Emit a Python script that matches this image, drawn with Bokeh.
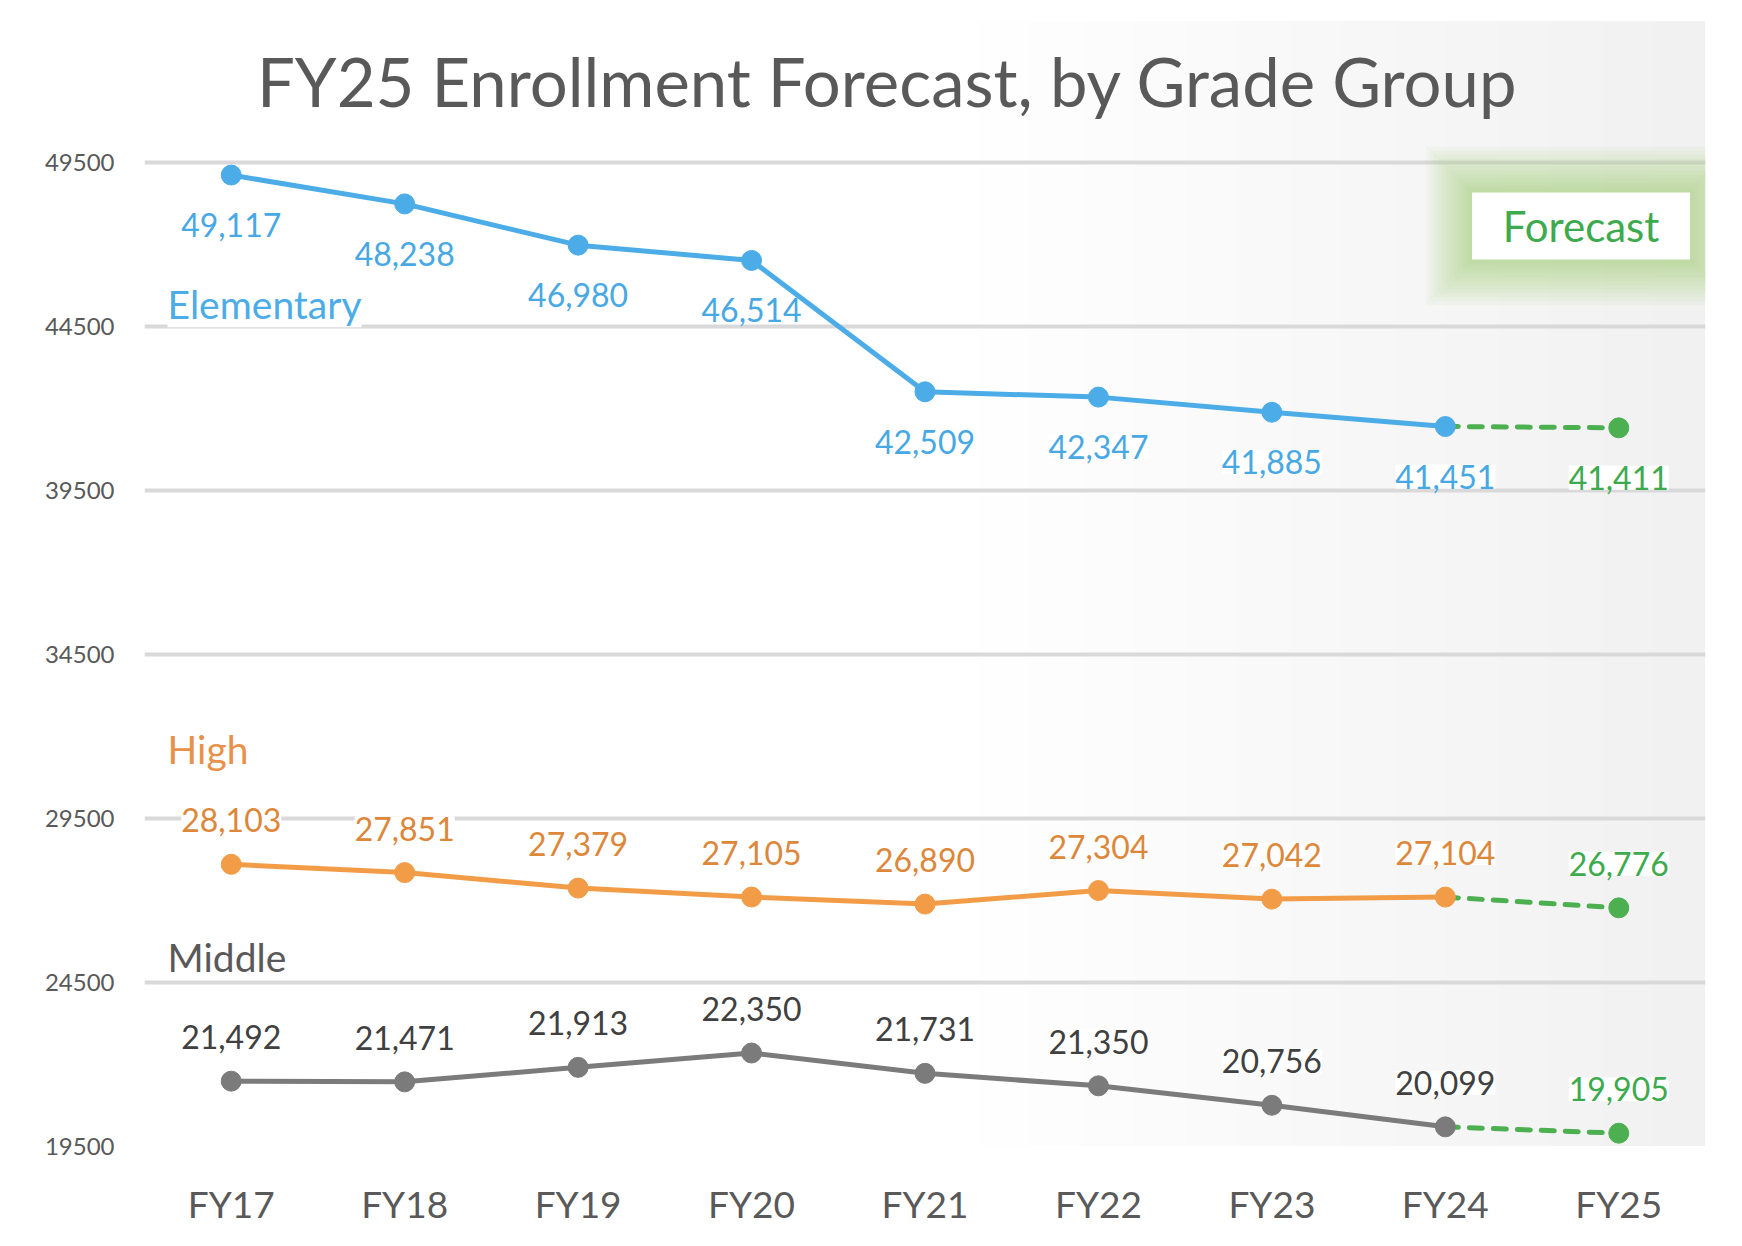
from bokeh.plotting import figure
from bokeh.models import (FactorRange, Range1d, FixedTicker, LabelSet, Label,
                          ColumnDataSource)
from bokeh.core.properties import value
from bokeh.embed import file_html
from bokeh.resources import INLINE

# ---------------- data ----------------
years = ["FY17", "FY18", "FY19", "FY20", "FY21", "FY22", "FY23", "FY24", "FY25"]
elementary = [49117, 48238, 46980, 46514, 42509, 42347, 41885, 41451, 41411]
high = [28103, 27851, 27379, 27105, 26890, 27304, 27042, 27104, 26776]
middle = [21492, 21471, 21913, 22350, 21731, 21350, 20756, 20099, 19905]
y_ticks = [19500, 24500, 29500, 34500, 39500, 44500, 49500]
n_actual = 8  # FY17..FY24 actual, FY25 forecast

FONT = "Lato"
BLUE, BLUE_TXT = "#4BACE8", "#47A8E4"
ORANGE, ORANGE_TXT = "#F29C48", "#DC873A"
GRAY, GRAY_TXT = "#7B7B7B", "#404040"
GREEN, GREEN_TXT = "#4CAF50", "#3DAA4D"

# layout (pixels)
W, H = 1726, 1230
LEFT, RIGHT, TOP, BOTTOM = 144, 21, 20, 84
frame_w = W - LEFT - RIGHT
frame_h = H - TOP - BOTTOM
grid_top_px = 142                      # 49500 gridline below frame top
PX_Y = 30000 / (frame_h - grid_top_px)  # data units per pixel
PX_X = 9 / frame_w
y_end = 49500 + grid_top_px * PX_Y

p = figure(width=W, height=H, output_backend="svg", toolbar_location=None,
           x_range=FactorRange(factors=years, range_padding=0),
           y_range=Range1d(19500, y_end),
           min_border_left=LEFT, min_border_right=RIGHT, min_border_top=TOP,
           min_border_bottom=BOTTOM)
p.outline_line_color = None
p.background_fill_color = "white"
p.border_fill_color = "white"
p.title.text = ""

# axes
p.xaxis.axis_line_color = None
p.xaxis.major_tick_line_color = None
p.xaxis.minor_tick_line_color = None
p.xaxis.major_label_text_font = FONT
p.xaxis.major_label_text_font_size = "37px"
p.xaxis.major_label_text_color = "#595959"
p.xaxis.major_label_standoff = 28

p.yaxis.ticker = FixedTicker(ticks=y_ticks)
p.yaxis.axis_line_color = None
p.yaxis.major_tick_line_color = None
p.yaxis.minor_tick_line_color = None
p.yaxis.major_label_text_font = FONT
p.yaxis.major_label_text_font_size = "24px"
p.yaxis.major_label_text_color = "#595959"
p.yaxis.major_label_standoff = 24

p.xgrid.grid_line_color = None
p.ygrid.grid_line_color = "#D9D9D9"
p.ygrid.grid_line_width = 4

# faint right-side shading of the panel
for k in range(14):
    p.quad(left=4.8 + k * 0.3, right=9.0, bottom=19500 - 200 * PX_Y, top=y_end,
           fill_color="black", fill_alpha=0.0035, line_color=None, level="image")

# Forecast box with glow
bx0, bx1 = 7.654, 8.911
by0, by1 = 49500 - 97 * PX_Y, 49500 - 30 * PX_Y
for d in [46, 42, 38, 34, 30, 26, 22, 18, 14, 10, 7, 4]:
    p.quad(left=bx0 - d * PX_X, right=bx1 + d * PX_X,
           bottom=by0 - d * PX_Y, top=by1 + d * PX_Y,
           fill_color="#96D16C", fill_alpha=0.06, line_color=None)
p.quad(left=bx0, right=bx1, bottom=by0, top=by1, fill_color="white",
       line_color=None)
p.add_layout(Label(x=(bx0 + bx1) / 2, y=(by0 + by1) / 2, text="Forecast",
                   text_font=FONT, text_font_size="42px", text_color=GREEN_TXT,
                   text_align="center", text_baseline="middle"))

# title
p.add_layout(Label(x=4.284, y=49500 + 82 * PX_Y,
                   text="FY25 Enrollment Forecast, by Grade Group",
                   text_font=FONT, text_font_size="67px", text_color="#595959",
                   text_align="center", text_baseline="middle"))

series = [
    (elementary, BLUE, BLUE_TXT, -50),
    (high, ORANGE, ORANGE_TXT, 44),
    (middle, GRAY, GRAY_TXT, 44),
]

for vals, col, tcol, off in series:
    src = ColumnDataSource(dict(
        x=years, y=vals, text=[f"{v:,}" for v in vals],
        color=[tcol] * n_actual + [GREEN_TXT]))
    p.add_layout(LabelSet(x="x", y="y", text="text", source=src,
                          y_offset=off, text_font=value(FONT),
                          text_font_size=value("32px"),
                          text_color="color", text_align="center",
                          text_baseline="middle",
                          background_fill_color="white",
                          level="underlay"))

for vals, col, tcol, off in series:
    p.line(years[n_actual - 1:], vals[n_actual - 1:], line_color=GREEN,
           line_width=5, line_dash="13 11", line_cap="round")
    p.line(years[:n_actual], vals[:n_actual], line_color=col, line_width=5)
    p.scatter(years[:n_actual], vals[:n_actual], size=20, color=col)
    p.scatter(years[n_actual:], vals[n_actual:], size=20, color=GREEN)

# series names
for name, yv, col in [("Elementary", 45180, BLUE), ("High", 31614, "#E8914A"),
                      ("Middle", 25280, "#595959")]:
    p.add_layout(Label(x=0.133, y=yv, text=name, text_font=FONT,
                       text_font_size="39px", text_color=col,
                       text_align="left", text_baseline="alphabetic",
                       background_fill_color="white", level="underlay"))

open("out.html", "w").write(file_html(p, INLINE))
